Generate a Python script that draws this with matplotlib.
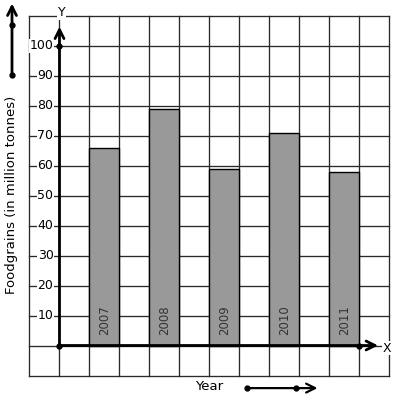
import matplotlib
matplotlib.use("Agg")
from matplotlib import pyplot as plt

years = ["2007", "2008", "2009", "2010", "2011"]
foodgrains = [66, 79, 59, 71, 58]
y_ticks = [10, 20, 30, 40, 50, 60, 70, 80, 90, 100]

plt.rcParams['font.family'] = ['DejaVu Sans']

fig = plt.figure(figsize=(3.97, 4.01), dpi=100)
ax = fig.add_axes([0, 0, 1, 1])
ax.set_xlim(-1.983, 11.25)
ax.set_ylim(-18.5, 115.17)
ax.axis('off')

# grid paper: one cell = 1 unit wide, 10 units tall
grid_c = '#2a2a2a'
for gx in range(-1, 12):
    ax.plot([gx, gx], [-10, 110], color=grid_c, lw=0.95, zorder=1)
for gy in range(-10, 111, 10):
    ax.plot([-1, 11], [gy, gy], color=grid_c, lw=0.95, zorder=1)

# bars
pos = [1.5 + 2 * i for i in range(len(years))]
ax.bar(pos, foodgrains, width=1.0, color='#999999', edgecolor='black',
       linewidth=1.0, zorder=2)
for p, yr in zip(pos, years):
    ax.text(p, 3.6, yr, rotation=90, ha='center', va='bottom',
            fontsize=8.5, color='#333333', zorder=3)

# axes with arrows
ax.annotate('', xy=(0, 106.3), xytext=(0, 0),
            arrowprops=dict(arrowstyle='->', lw=2.0, color='black',
                            shrinkA=0, shrinkB=0, mutation_scale=16), zorder=4)
ax.annotate('', xy=(10.62, 0), xytext=(0, 0),
            arrowprops=dict(arrowstyle='->', lw=2.0, color='black',
                            shrinkA=0, shrinkB=0, mutation_scale=16), zorder=4)
ax.plot([0, 0, 10], [0, 100, 0], 'o', color='black', ms=3.5, zorder=5)

wb = dict(facecolor='white', edgecolor='none', pad=0.4)
for t in y_ticks:
    ax.text(-0.2, t, str(t), ha='right', va='center', fontsize=9,
            bbox=wb, zorder=3)
ax.text(0.06, 111.0, 'Y', ha='center', va='center', fontsize=9,
        bbox=wb, zorder=3)
ax.text(10.92, -0.9, 'X', ha='center', va='center', fontsize=9,
        bbox=wb, zorder=3)

ax.text(-1.6, 50.2, 'Foodgrains (in million tonnes)', rotation=90,
        ha='center', va='center', fontsize=9.5)
ax.text(5.0, -13.8, 'Year', ha='center', va='center', fontsize=9.5)

# decorative direction arrows
ax.annotate('', xy=(-1.583, 114.0), xytext=(-1.583, 90.3),
            arrowprops=dict(arrowstyle='->', lw=2.0, color='black',
                            shrinkA=0, shrinkB=0, mutation_scale=16))
ax.plot([-1.583, -1.583], [107.0, 90.3], 'o', color='black', ms=3.5)
ax.annotate('', xy=(8.6, -14.2), xytext=(6.24, -14.2),
            arrowprops=dict(arrowstyle='->', lw=1.6, color='black',
                            shrinkA=0, shrinkB=0, mutation_scale=16))
ax.plot([6.24, 7.88], [-14.2, -14.2], 'o', color='black', ms=3.5)

fig.savefig('out.png', dpi=100)
